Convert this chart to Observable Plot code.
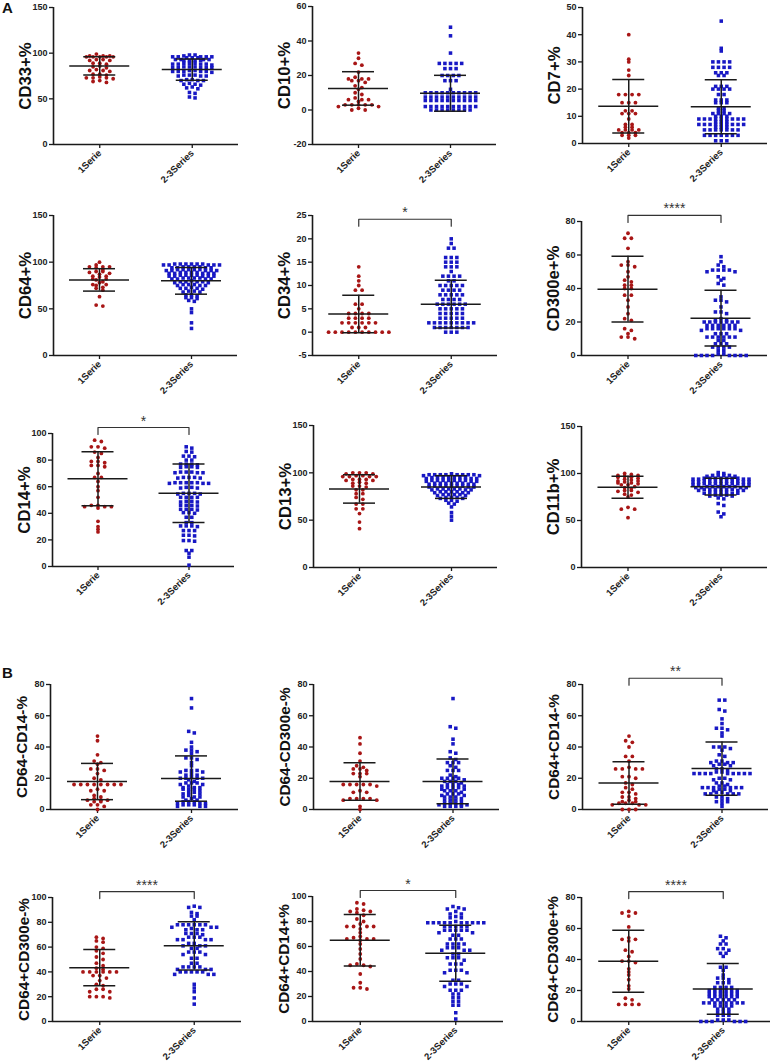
<!DOCTYPE html>
<html><head><meta charset="utf-8">
<script src="https://cdn.jsdelivr.net/npm/d3@7"></script>
<script src="https://cdn.jsdelivr.net/npm/@observablehq/plot@0.6"></script>
<style>
html,body{margin:0;padding:0;background:#fff;}
#wrap{position:relative;width:772px;height:1062px;overflow:hidden;font-family:"Liberation Sans",Arial,sans-serif;background:#fff;}
.sec{position:absolute;left:2px;font-weight:bold;font-size:15px;line-height:15px;color:#111;}
</style></head><body><div id="wrap"><div class="sec" style="top:0px">A</div><div class="sec" style="top:665px">B</div></div>
<script>
// ---------- categories ----------
const groups = ["1Serie", "2-3Series"];
const labels = ["CD33+%", "CD10+%", "CD7+%", "CD64+%", "CD34+%", "CD300e+%", "CD14+%", "CD13+%", "CD11b+%",
  "CD64-CD14-%", "CD64-CD300e-%", "CD64+CD14-%", "CD64+CD300e-%", "CD64+CD14+%", "CD64+CD300e+%"];

// ---------- y tick labels ----------
const ticksCD33 = [0, 50, 100, 150];
const ticksCD10 = [-20, 0, 20, 40, 60];
const ticksCD7 = [0, 10, 20, 30, 40, 50];
const ticksCD64 = [0, 50, 100, 150];
const ticksCD34 = [-5, 0, 5, 10, 15, 20, 25];
const ticksCD300e = [0, 20, 40, 60, 80];
const ticksCD14 = [0, 20, 40, 60, 80, 100];
const ticksCD13 = [0, 50, 100, 150];
const ticksCD11b = [0, 50, 100, 150];
const ticks80 = [0, 20, 40, 60, 80];
const ticks100 = [0, 20, 40, 60, 80, 100];

// ---------- values ----------
const cd33_1 = [99, 97,96,97,96,96,97,96,96, 93,92,93,92, 89,88,89, 86,85,84, 82,81,80,81, 77,76,77, 74,73,73,72,73, 70,69,68];
const cd33_2 = [98,98,97, 96,96,96,95,96,95,96,95, 93,92,93,92,93,92,93,92, 89,88,88,89,88,87,88,89, 85,84,84,85,84,85,84,84, 81,80,80,81,80,80,79,80, 76,75,76,75,75,76, 71,70,71,70,70, 67,66,66,65, 63,62,61, 57,56, 52,51];
const cd10_1 = [33, 30, 27, 26, 22, 19, 18, 18, 18, 17, 17, 16, 14, 13, 12, 10, 9, 7, 6, 6, 6, 5, 3, 3, 3, 3, 3, 2, 2, 1, 0, 0];
const cd10_2 = [48, 43, 33, 27,27,27,27,27, 24,24,24, 20,20,20,20, 17,17,17, 12,
  10,10,10,10,10,10,10,10,10,10, 7.5,7.5,7.5,7.5,7.5,7.5,7.5,7.5,7.5,7.5, 5.5,5.5,5.5,5.5,5.5,5.5,5.5,5.5,5.5,5.5,
  2,2,2,2,2,2,2,2,2,2, 0,0,0,0,0,0,0,0];
const cd7_1 = [40, 31, 30, 27, 25, 18, 18, 18, 18, 15, 15, 15, 12, 12, 11, 11, 11, 9, 7, 7, 6, 6, 5, 5, 5, 5, 4, 4, 4, 3, 3, 3, 2];
const cd7_2 = [45, 35, 34, 30,30,30,30, 28,28,28,28, 26,26,26, 25,25, 21,21,21, 20,20,20,20, 18,18, 16,16,16, 15,15,15, 13,13, 12,12, 11,11,11,11, 10,10,10, 9,9,9,9,9,9,9,9,9, 8,8,8, 7,7,7,7,7,7,7,7,7, 6,6,6, 5,5,5,5,5,5,5, 3,3,3,3,3,3,3, 1,1,1];
const cd64_1 = [100, 97, 95, 95, 95, 94, 92, 90, 90, 89, 88, 87, 85, 85, 84, 82, 81, 82, 79, 78, 76, 75, 76, 73, 72, 70, 63, 54, 53];
const cd64_2 = [98,97,98,97,98,97,98,97,98,97,98, 95,94,95,94,95,94,95,94, 92,91,92,91,92,91,92,91,92,91, 89,88,89,88,89,88,89,88,88,
  86,85,86,85,86,85,86,85,85, 83,82,83,82,83,82,83,82, 80,79,79,78,79,78,79, 76,75,76,75,76,75, 73,72,72,71,72, 69,68,69,68, 65,65,64, 62,61,62, 59,58, 50, 46, 35, 29];
const cd34_1 = [14, 12, 11, 10, 9, 9, 6, 6, 5, 4, 4, 4, 4, 3, 3, 3, 3, 2, 2, 2, 2, 2, 2, 1, 1, 1, 0, 0, 0, 0, 0, 0, 0, 0, 0, 0];
const cd34_2 = [20, 19, 18, 18, 16, 16, 16, 15, 15, 15, 14, 14, 14, 13, 12, 12, 12, 12, 11, 11, 10, 10, 10, 10, 10, 9, 9, 9, 9, 8, 8, 8, 8, 8, 7, 7, 7, 7, 6, 6, 6, 6, 6, 6, 5, 5, 5, 5, 5, 4, 4, 4, 4, 4, 3, 3, 3, 3, 3, 2, 2, 2, 2, 2, 2, 2, 2, 2, 1, 1, 1, 1, 1, 1, 1, 0, 0, 0];
const cd300e_1 = [73, 70, 70, 64, 56, 54, 54, 53, 50, 47, 45, 44, 42, 42, 40, 40, 36, 36, 33, 29, 25, 22, 21, 16, 15, 13, 11, 11, 10];
const cd300e_2 = [59, 56, 54, 53, 51, 51, 51, 51, 50, 50, 47, 46, 45, 43, 42, 35, 33, 33, 32, 29, 26, 26, 25, 22, 21, 21, 20, 20, 20, 20, 20, 20, 20, 18, 18, 18, 18, 18, 18, 16, 16, 16, 16, 16, 16, 15, 15, 13, 13, 13, 11, 11, 11, 11, 11, 11, 9, 9, 7, 7, 7, 5, 5, 5, 5, 3, 3, 1, 1, 0, 0, 0, 0, 0, 0, 0, 0];
const cd14_1 = [95, 94, 90, 90, 89, 86, 85, 82, 79, 79, 78, 76, 76, 75, 70, 67, 67, 64, 60, 57, 52, 46, 46, 45, 45, 45, 44, 34, 30, 28, 26];
const cd14_2 = [90, 89, 86.5, 86, 83, 83, 82.5, 80, 80, 77, 77, 77, 76.5, 75, 75, 74.5, 74.5, 71, 71, 71, 70.5, 70.5, 70.5, 67, 67, 67, 66.5, 66.5,
  63, 63, 63, 63, 63, 62.5, 62.5, 62.5, 59.5, 59.5, 59, 59, 55, 55, 55, 54.5, 54.5, 52, 52, 52, 52, 49, 49, 48.5, 48.5, 46, 46, 46, 45.5,
  43, 43, 43, 42.5, 40.5, 40.5, 40, 37, 37, 33, 33, 30.5, 30.5, 30.5, 30, 27, 27, 27, 23.5, 23.5, 23, 19.5, 19.5, 19, 12, 12, 10, 7, 1];
const cd13_1 = [100, 100, 99, 100, 99, 97, 96, 96, 96, 97, 96, 93, 93, 92, 93, 92, 89, 90, 89, 86, 86, 85, 82, 82, 78, 78, 74, 72, 67, 67, 62, 62, 57, 48, 41];
const cd13_2 = [98,98,99,98,98,97,98,98,97,98,98, 95,95,95,94,95,95,94,95,95,94, 92,92,91,92,92,91,92,92,91,92, 89,89,88,89,89,88,89,89,88,
  86,86,85,86,86,85,86,86,85, 83,83,82,83,83,82,83,82, 80,80,79,80,79,80,79, 77,77,76,77,76,77, 74,74,73,74,73, 71,71,70, 68,67, 64, 58, 54, 50];
const cd11b_1 = [100, 99, 98, 98, 97, 96, 96, 95, 94, 93, 92, 92, 91, 90, 90, 89, 88, 88, 86, 85, 84, 82, 82, 81, 80, 78, 77, 75, 64, 62, 62, 53];
const cd11b_2 = [101, 100, 98,98,97,98,97,98, 95,95,94,95,94,95,95,94,95,94,95, 92,92,91,92,91,92,92,91,92,91,92, 89,89,88,89,88,89,89,88,89,88,89,
  86,86,85,86,85,86,86,85,86,85, 83,83,82,83,82,83,83,82,83, 80,80,79,80,79,80,79, 77,77,76,77,76, 74,73, 68, 66, 59, 57, 54];
const b1_1 = [47, 44, 35, 31, 30, 29, 26, 26, 25, 23, 20, 19, 16, 16, 16, 16, 16, 16, 16, 16, 13, 12, 12, 9, 8, 7, 6, 6, 6, 5, 5, 3, 3, 2, 0];
const b1_2 = [71, 65, 50, 49, 43, 40, 38, 38, 37, 36, 33, 33, 32, 30, 28, 25, 25, 25, 24, 24, 23, 22, 22, 21, 20, 20, 20, 20, 19, 18, 17, 17, 17, 16, 16, 15, 14, 14, 14, 13, 13, 13, 12, 11, 11, 10, 10, 9, 8, 8, 8, 7, 6, 6, 5, 5, 5, 4, 4, 4, 3, 3, 3, 2, 2, 2];
const b2_1 = [46, 42, 36, 31, 28, 27, 26, 26, 25, 23, 23, 23, 21, 16, 16, 16, 16, 16, 15, 12, 11, 11, 7, 7, 7, 7, 6, 6, 2, 0];
const b2_2 = [71, 53, 52, 45, 42, 37, 36, 33, 32, 30, 30, 30, 28, 27, 25, 25, 25, 22, 21, 20, 20, 20, 20, 19, 18, 18, 18, 17, 16, 16, 16, 15, 15, 14, 14, 14, 13, 13, 12, 12, 12, 11, 10, 10, 10, 9, 9, 8, 8, 8, 7, 6, 6, 6, 5, 4, 4, 4, 3, 3, 3, 2, 2, 2, 2];
const b3_1 = [47, 44, 43, 40, 34, 34, 31, 27, 26, 26, 26, 26, 21, 21, 20, 17, 16, 14, 13, 11, 11, 10, 8, 8, 7, 6, 5, 5, 4, 4, 4, 3, 3, 3, 0, 0, 0];
const b3_2 = [70, 70, 64, 63, 58, 55, 52, 52, 51, 49, 47, 40, 40, 40, 39, 38, 35, 34, 31, 31, 30, 30, 30, 29, 29, 28, 28, 26, 26, 25, 24, 24, 23, 23, 23, 23, 23, 23, 23, 23, 23, 20, 20, 19, 19, 17, 17, 16, 15, 15, 14, 14, 14, 14, 14, 14, 13, 13, 12, 12, 11, 11, 10, 10, 10, 10, 10, 8, 8, 7, 6, 5, 5, 4, 2];
const b4_1 = [68, 67, 65, 64, 60, 59, 57, 55, 52, 50, 47, 45, 43, 42, 40, 40, 40, 40, 40, 40, 37, 37, 35, 33, 30, 29, 26, 26, 24, 24, 20, 20, 20, 19];
const b4_2 = [93, 92, 92, 88, 87, 85, 85, 82, 78, 78, 78, 78, 78, 78, 76, 76, 76, 75, 74, 74, 74, 71, 71, 71, 70, 68, 68, 68, 66, 66, 66, 66, 63, 63, 61, 61, 61, 59, 59, 56, 56, 56, 54, 54, 51, 51, 47, 47, 44, 44, 44, 44, 42, 42, 42, 40, 40, 40, 40, 40, 38, 38, 38, 30, 27, 24, 19, 14];
const b5_1 = [95, 94, 90, 89, 88, 88, 87, 85, 82, 80, 78, 76, 76, 76, 76, 74, 71, 68, 67, 66, 66, 66, 65, 62, 58, 54, 50, 46, 45, 45, 44, 38, 31, 27, 27, 26];
const b5_2 = [92, 91, 90, 90, 88, 86, 86, 84, 83, 83, 80, 79, 79, 79, 79, 79, 79, 79, 79, 79, 79, 76, 76, 76, 76, 76, 73, 73, 73, 73, 73, 71, 71, 69, 69, 66, 66, 66, 62, 62, 62, 62, 59, 59, 59, 57, 57, 57, 54, 54, 51, 51, 51, 49, 46, 46, 46, 41, 41, 41, 39, 39, 33, 33, 30, 30, 30, 28, 28, 25, 25, 25, 22, 22, 19, 19, 16, 16, 13, 13, 7, 2];
const b6_1 = [71, 70, 70, 68, 61, 54, 53, 53, 52, 46, 45, 42, 39, 39, 38, 34, 32, 30, 27, 23, 21, 15, 14, 11, 11, 11, 11];
const b6_2 = [55, 54, 52, 50, 50, 47, 47, 46, 44, 44, 42, 35, 35, 33, 30, 28, 28, 27, 25, 25, 25, 22, 22, 22, 22, 20, 20, 20, 20, 20, 20, 18, 18, 18, 18, 18, 18, 16, 16, 16, 16, 16, 16, 14, 14, 14, 14, 14, 12, 12, 12, 12, 12, 12, 12, 12, 10, 10, 10, 10, 8, 8, 8, 6, 6, 6, 4, 4, 4, 1, 1, 1, 0, 0, 0, 0, 0, 0];

// ---------- mean and SD ----------
const mean1 = [86, 12.5, 13.7, 81, 3.9, 39.6, 66, 83, 85.3, 17.9, 18, 17, 43.4, 65, 38.8];
const sd1   = [10, 9.7, 9.8, 12, 4, 19.6, 20.3, 15, 11.7, 11.6, 12, 13.6, 14.6, 20.6, 20];
const mean2 = [82, 9.7, 13.5, 80, 6, 22.3, 55, 85, 86, 19.8, 18, 26.2, 61, 54.7, 21];
const sd2   = [11.7, 10.4, 9.9, 14.3, 5.1, 16.6, 22, 12, 9, 14.5, 14.3, 17, 19.4, 22.4, 16.4];

// ---------- significance ----------
const sigText  = ["", "", "", "", "*", "****", "*", "", "", "", "", "**", "****", "*", "****"];
const sigLevel = [null, null, null, null, 24.2, 83.6, 104.5, null, null, null, null, 84, 104.8, 104.8, 83.8];

// ---------- assembly ----------
const yTicks = [ticksCD33, ticksCD10, ticksCD7, ticksCD64, ticksCD34, ticksCD300e, ticksCD14, ticksCD13, ticksCD11b,
  ticks80, ticks80, ticks80, ticks100, ticks100, ticks80];
const series1 = [cd33_1, cd10_1, cd7_1, cd64_1, cd34_1, cd300e_1, cd14_1, cd13_1, cd11b_1, b1_1, b2_1, b3_1, b4_1, b5_1, b6_1];
const series2 = [cd33_2, cd10_2, cd7_2, cd64_2, cd34_2, cd300e_2, cd14_2, cd13_2, cd11b_2, b1_2, b2_2, b3_2, b4_2, b5_2, b6_2];

// layout (pixels): y-axis x position, plot width, axis top, axis bottom
const layout = [
  {x: 53, w: 185, t: 7, b: 144}, {x: 312, w: 184, t: 6, b: 144}, {x: 582, w: 185, t: 7, b: 143},
  {x: 53, w: 184, t: 215, b: 355}, {x: 312, w: 185, t: 215, b: 355}, {x: 581, w: 186, t: 221, b: 355},
  {x: 52, w: 182, t: 433, b: 566}, {x: 313, w: 184, t: 425, b: 567}, {x: 581, w: 186, t: 426, b: 567},
  {x: 50, w: 188, t: 684, b: 809}, {x: 313, w: 186, t: 684, b: 809}, {x: 582, w: 186, t: 684, b: 809},
  {x: 52, w: 189, t: 897, b: 1021}, {x: 312, w: 191, t: 896, b: 1021}, {x: 581, w: 189, t: 897, b: 1021}
];

const RED = "#a81616", BLUE = "#1818c4", INK = "#1a1a1a";

// Prism-like scatter: bin points into horizontal rows, spread each row around the centre
function swarm(vals, pyu, rowH, step) {
  const order = d3.range(vals.length).sort((a, b) => vals[b] - vals[a]);
  const off = new Array(vals.length).fill(0);
  let row = [], top = null;
  const flush = () => {
    const n = row.length;
    const slots = d3.range(n).map(j => (j - (n - 1) / 2) * step)
      .sort((a, b) => Math.abs(a) - Math.abs(b) || a - b);
    row.forEach((idx, j) => off[idx] = slots[j]);
    row = [];
  };
  for (const idx of order) {
    if (row.length && (top - vals[idx]) * pyu >= rowH) flush();
    if (!row.length) top = vals[idx];
    row.push(idx);
  }
  flush();
  return off;
}

const wrap = document.getElementById("wrap");
for (let i = 0; i < 15; i++) {
  const L = layout[i];
  const ticks = yTicks[i];
  const ymin = ticks[0], ymax = ticks[ticks.length - 1];
  const w = L.w, h = L.b - L.t;
  const ml = 50, mr = 8, mt = 30, mb = 55;
  const pyu = h / (ymax - ymin), pxu = w / 2;
  const v1 = series1[i], v2 = series2[i];
  const o1 = swarm(v1, pyu, 2.6, 6.7), o2 = swarm(v2, pyu, 2.6, 5.6);
  const pts1 = v1.map((v, k) => ({x: 0 + o1[k] / pxu, y: v}));
  const pts2 = v2.map((v, k) => ({x: 1 + o2[k] / pxu, y: v}));
  const stats = [{g: 0, m: mean1[i], s: sd1[i]}, {g: 1, m: mean2[i], s: sd2[i]}];
  const meanHalf = 30 / pxu, capHalf = 16 / pxu;
  const big = i < 9 ? 16.7 : 15.3;
  const marks = [
    Plot.axisY({ticks, tickSize: 4, tickPadding: 2, tickFormat: d => String(d), fontSize: 9, label: null, stroke: INK, strokeWidth: 1.3}),
    Plot.axisX({ticks: [0, 1], tickFormat: d => groups[d], tickRotate: -45, tickSize: 4, tickPadding: 3, fontSize: 9.5, label: null, stroke: INK, strokeWidth: 1.3}),
    Plot.ruleX([-0.5], {stroke: INK, strokeWidth: 1.6}),
    Plot.ruleY([ymin], {stroke: INK, strokeWidth: 1.6}),
    Plot.dot(pts1, {x: "x", y: "y", r: 1.9, fill: RED}),
    Plot.dot(pts2, {x: "x", y: "y", r: 2, symbol: "square", fill: BLUE}),
    Plot.ruleX(stats, {x: "g", y1: d => d.m - d.s, y2: d => d.m + d.s, stroke: INK, strokeWidth: 1.5}),
    Plot.ruleY(stats, {y: "m", x1: d => d.g - meanHalf, x2: d => d.g + meanHalf, stroke: INK, strokeWidth: 1.5}),
    Plot.ruleY(stats, {y: d => d.m + d.s, x1: d => d.g - capHalf, x2: d => d.g + capHalf, stroke: INK, strokeWidth: 1.5}),
    Plot.ruleY(stats, {y: d => d.m - d.s, x1: d => d.g - capHalf, x2: d => d.g + capHalf, stroke: INK, strokeWidth: 1.5}),
    Plot.text([labels[i]], {text: d => d, x: -0.5, y: (ymin + ymax) / 2, textAnchor: "middle", lineAnchor: "middle", rotate: -90, dx: -28, fontSize: big, fontWeight: "bold", fill: "#111"})
  ];
  if (sigLevel[i] != null) {
    const yb = sigLevel[i], drop = 7 / pyu;
    const br = [{x: 0, y: yb - drop}, {x: 0, y: yb}, {x: 1, y: yb}, {x: 1, y: yb - drop}];
    marks.push(Plot.line(br, {x: "x", y: "y", stroke: "#333", strokeWidth: 1.2}));
    marks.push(Plot.text([sigText[i]], {text: d => d, x: 0.5, y: yb, dy: -2, lineAnchor: "bottom", fontSize: 14, fontWeight: "normal", fill: "#333"}));
  }
  const svg = Plot.plot({
    width: ml + w + mr, height: mt + h + mb,
    marginLeft: ml, marginRight: mr, marginTop: mt, marginBottom: mb,
    x: {domain: [-0.5, 1.5]},
    y: {domain: [ymin, ymax]},
    style: {background: "transparent", overflow: "visible", fontFamily: "'Liberation Sans', Arial, sans-serif", fontWeight: "bold", fontSize: "9px", color: "#222"},
    marks
  });
  svg.style.position = "absolute";
  svg.style.left = (L.x - ml) + "px";
  svg.style.top = (L.t - mt) + "px";
  svg.style.maxWidth = "none";
  wrap.appendChild(svg);
}
</script></body></html>
